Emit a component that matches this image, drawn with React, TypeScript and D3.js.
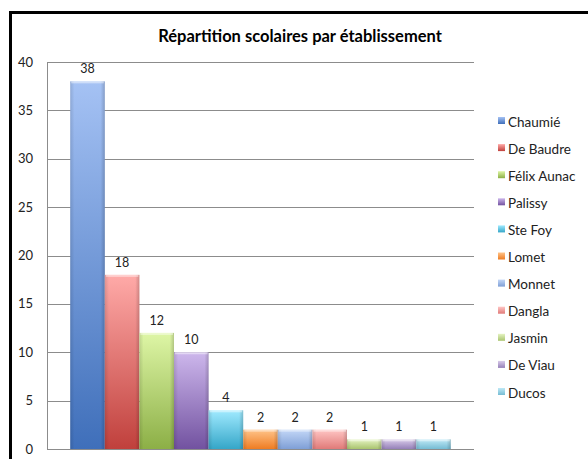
import React, { useRef, useEffect } from 'react'
import * as d3 from 'd3'

const schools = ['Chaumié', 'De Baudre', 'Félix Aunac', 'Palissy', 'Ste Foy', 'Lomet', 'Monnet', 'Dangla', 'Jasmin', 'De Viau', 'Ducos']
const counts = [38, 18, 12, 10, 4, 2, 2, 2, 1, 1, 1]
const yTicks = [0, 5, 10, 15, 20, 25, 30, 35, 40]
// light top / dark bottom of each bar
const topColors = ['#a5c2f4', '#ffaaa8', '#def6a6', '#cdb7ec', '#a0eaff', '#ffc48a', '#c3d7f7', '#ffc6c5', '#e5f3c3', '#d9cbea', '#bfe9f6']
const bottomColors = ['#3f6fba', '#c0403c', '#8caf46', '#7252a0', '#35a6c8', '#ee7c22', '#7f9fd6', '#e07a78', '#a9c46e', '#9580b8', '#76bcd4']

const W = 588
const H = 459

export default function App() {
    const svgRef = useRef<SVGSVGElement>(null)

    useEffect(() => {
        const svg = d3.select(svgRef.current)
        svg.selectAll('*').remove()

        const plot = { left: 47, right: 474, top: 62, bottom: 449 }
        const font = 'Lato, "Liberation Sans", sans-serif'

        // frame
        svg.append('rect')
            .attr('x', 10.5).attr('y', 12.5)
            .attr('width', W + 20).attr('height', H + 20)
            .attr('fill', '#fff').attr('stroke', '#000').attr('stroke-width', 3)

        svg.append('text')
            .attr('x', 300).attr('y', 42)
            .attr('text-anchor', 'middle')
            .style('font-family', font).style('font-weight', 'bold').style('font-size', '16.5px')
            .text('Répartition scolaires par établissement')

        const y = d3.scaleLinear().domain([0, 40]).range([plot.bottom, plot.top])
        const x = d3.scaleBand<string>().domain(['all']).range([plot.left, plot.right]).paddingInner(0).paddingOuter(0.061)
        const xs = d3.scaleBand<string>().domain(schools).range([x('all')!, x('all')! + x.bandwidth()]).padding(0)

        // grid
        svg.append('g').selectAll('line').data(yTicks).enter().append('line')
            .attr('x1', plot.left).attr('x2', plot.right)
            .attr('y1', (d) => Math.round(y(d)) + 0.5).attr('y2', (d) => Math.round(y(d)) + 0.5)
            .attr('stroke', '#8c8c8c').attr('stroke-width', 1)
        svg.append('line')
            .attr('x1', plot.left + 0.5).attr('x2', plot.left + 0.5)
            .attr('y1', plot.top).attr('y2', plot.bottom)
            .attr('stroke', '#8c8c8c')

        svg.append('g').selectAll('text').data(yTicks).enter().append('text')
            .attr('x', 33).attr('y', (d) => y(d) + 4.5)
            .attr('text-anchor', 'end')
            .style('font-family', font).style('font-size', '13px').attr('fill', '#222')
            .text((d) => d)

        const defs = svg.append('defs')
        schools.forEach((s, i) => {
            const g = defs.append('linearGradient').attr('id', 'g' + i).attr('x1', 0).attr('x2', 0).attr('y1', 0).attr('y2', 1)
            g.append('stop').attr('offset', '0%').attr('stop-color', topColors[i])
            g.append('stop').attr('offset', '100%').attr('stop-color', bottomColors[i])
            const h = defs.append('linearGradient').attr('id', 'h' + i).attr('x1', 0).attr('x2', 1).attr('y1', 0).attr('y2', 0)
            h.append('stop').attr('offset', '0%').attr('stop-color', '#000').attr('stop-opacity', 0.12)
            h.append('stop').attr('offset', '12%').attr('stop-color', '#000').attr('stop-opacity', 0)
            h.append('stop').attr('offset', '88%').attr('stop-color', '#000').attr('stop-opacity', 0)
            h.append('stop').attr('offset', '100%').attr('stop-color', '#000').attr('stop-opacity', 0.18)
        })

        const bars = svg.append('g').selectAll('g').data(counts).enter().append('g')
        bars.append('rect')
            .attr('x', (_, i) => xs(schools[i])!)
            .attr('y', (d) => y(d))
            .attr('width', xs.bandwidth())
            .attr('height', (d) => y(0) - y(d))
            .attr('fill', (_, i) => `url(#g${i})`)
        bars.append('rect')
            .attr('x', (_, i) => xs(schools[i])!)
            .attr('y', (d) => y(d))
            .attr('width', xs.bandwidth())
            .attr('height', (d) => y(0) - y(d))
            .attr('fill', (_, i) => `url(#h${i})`)
        bars.append('rect')
            .attr('x', (_, i) => xs(schools[i])! + 1)
            .attr('y', (d) => y(d))
            .attr('width', xs.bandwidth() - 2)
            .attr('height', 2)
            .attr('fill', '#fff').attr('opacity', 0.45)

        bars.append('text')
            .attr('x', (_, i) => xs(schools[i])! + xs.bandwidth() / 2)
            .attr('y', (d) => y(d) - 8)
            .attr('text-anchor', 'middle')
            .style('font-family', font).style('font-size', '12.5px').attr('fill', '#222')
            .text((d) => d)

        // legend
        const lg = svg.append('g').selectAll('g').data(schools).enter().append('g')
            .attr('transform', (_, i) => `translate(498,${122 + i * 27.1})`)
        lg.append('rect')
            .attr('x', 0).attr('y', -5).attr('width', 7).attr('height', 7)
            .attr('fill', (_, i) => `url(#g${i})`)
        lg.append('text')
            .attr('x', 10).attr('y', 4.5)
            .style('font-family', font).style('font-size', '13.5px').attr('fill', '#222')
            .text((d) => d)
    }, [])

    return (
        <svg ref={svgRef} width={W} height={H} style={{ position: 'absolute', left: 0, top: 0, background: '#fff' }} />
    )
}
